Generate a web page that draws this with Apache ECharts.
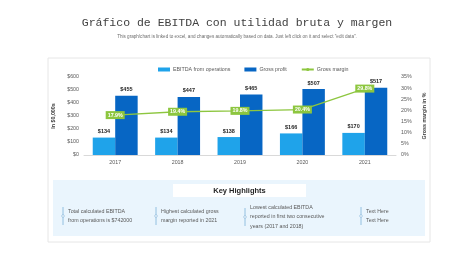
<!DOCTYPE html>
<html>
<head>
<meta charset="utf-8">
<script src="https://cdn.jsdelivr.net/npm/echarts@6/dist/echarts.min.js"></script>
<style>
  html, body { margin: 0; padding: 0; background: #fff; }
  #chart { width: 474px; height: 266px; }
</style>
</head>
<body>
<div id="chart"></div>
<script>
// datos del grafico
const years = ['2017', '2018', '2019', '2020', '2021'];
const ebitda = [134, 134, 138, 166, 170];
const grossProfit = [455, 447, 465, 507, 517];
const grossMargin = [17.9, 19.4, 19.8, 20.4, 29.8];

// textos de "Key Highlights"
const highlights = [
  ['Total calculated EBITDA', 'from operations is $742000'],
  ['Highest calculated gross', 'margin reported in 2021'],
  ['Lowest calculated EBITDA', 'reported in first two consecutive', 'years (2017 and 2018)'],
  ['Text Here', 'Text Here']
];
const highlightX = [63, 156, 245, 361];

const lightBlue = '#1fa3ea';
const darkBlue = '#0766c4';
const green = '#8dc63f';
const gray = '#595959';

// elementos graficos: tarjeta, panel y puntos destacados
const graphics = [
  { type: 'rect', z: -10, shape: { x: 48, y: 58, width: 382, height: 184 },
    style: { fill: '#fff', stroke: '#e6e6e6', lineWidth: 1 } },
  { type: 'rect', z: -5, shape: { x: 53, y: 180, width: 372, height: 56 },
    style: { fill: '#eaf5fd' } },
  { type: 'rect', shape: { x: 173, y: 184, width: 133, height: 13 },
    style: { fill: '#fff' } },
  { type: 'text', x: 239.5, y: 190.5,
    style: { text: 'Key Highlights', font: 'bold 7.5px "Liberation Sans", Arial, sans-serif',
      fill: '#262626', align: 'center', verticalAlign: 'middle' } }
];
highlights.forEach((lines, i) => {
  const x = highlightX[i];
  const cy = lines.length === 3 ? 217 : 216;
  graphics.push({ type: 'line', shape: { x1: x, y1: cy - 9, x2: x, y2: cy + 9 },
    style: { stroke: '#7fb2d8', lineWidth: 0.8 } });
  graphics.push({ type: 'circle', shape: { cx: x, cy: cy, r: 1.3 },
    style: { fill: '#fff', stroke: '#7fb2d8', lineWidth: 0.6 } });
  graphics.push({ type: 'text', x: x + 5, y: cy,
    style: { text: lines.join('\n'), font: '5.3px "Liberation Sans", Arial, sans-serif',
      lineHeight: 9.5, fill: gray, align: 'left', verticalAlign: 'middle' } });
});

const chart = echarts.init(document.getElementById('chart'), null, { renderer: 'canvas' });
chart.setOption({
  animation: false,
  backgroundColor: '#fff',
  title: {
    text: 'Gráfico de EBITDA con utilidad bruta y margen',
    subtext: 'This graph/chart is linked to excel, and changes automatically based on data. Just left click on it and select "edit data".',
    left: 'center',
    top: 12,
    itemGap: 5,
    textStyle: { fontFamily: '"Liberation Mono", "DejaVu Sans Mono", monospace', fontWeight: 'normal',
      fontSize: 11.5, color: '#404040' },
    subtextStyle: { fontFamily: '"Liberation Sans", Arial, sans-serif', fontSize: 4.6, color: '#6d6d6d' }
  },
  legend: {
    top: 62,
    left: 153,
    itemWidth: 12,
    itemHeight: 4,
    itemGap: 14,
    textStyle: { fontSize: 5.3, color: gray, fontFamily: '"Liberation Sans", Arial, sans-serif', padding: [0, 0, 0, -2] },
    data: [
      { name: 'EBITDA from operations', icon: 'rect' },
      { name: 'Gross profit', icon: 'rect' },
      { name: 'Gross margin' }
    ]
  },
  grid: { left: 84, right: 78, top: 77, bottom: 111 },
  xAxis: {
    type: 'category',
    data: years,
    axisLine: { lineStyle: { color: '#d9d9d9' } },
    axisTick: { show: false },
    axisLabel: { fontSize: 5.3, color: gray, margin: 5 }
  },
  yAxis: [
    {
      type: 'value', min: 0, max: 600, interval: 100,
      name: 'In $0,000s', nameLocation: 'middle', nameGap: 19, nameRotate: 90,
      nameTextStyle: { fontSize: 5.3, fontWeight: 'bold', color: '#404040' },
      splitLine: { show: false },
      axisLabel: { fontSize: 5.3, color: gray, margin: 5, formatter: v => '$' + v }
    },
    {
      type: 'value', min: 0, max: 35, interval: 5,
      name: 'Gross margin in %', nameLocation: 'middle', nameGap: 16, nameRotate: 90,
      nameTextStyle: { fontSize: 5.3, fontWeight: 'bold', color: '#404040' },
      splitLine: { show: false },
      axisLabel: { fontSize: 5.3, color: gray, margin: 5, formatter: v => v + '%' }
    }
  ],
  series: [
    {
      name: 'EBITDA from operations', type: 'bar', data: ebitda,
      barWidth: '36%', barGap: '0%',
      itemStyle: { color: lightBlue },
      label: { show: true, position: 'top', distance: 3, fontSize: 5.5, fontWeight: 'bold',
        color: '#262626', formatter: p => '$' + p.value }
    },
    {
      name: 'Gross profit', type: 'bar', data: grossProfit,
      barWidth: '36%',
      itemStyle: { color: darkBlue },
      label: { show: true, position: 'top', distance: 3, fontSize: 5.5, fontWeight: 'bold',
        color: '#262626', formatter: p => '$' + p.value }
    },
    {
      name: 'Gross margin', type: 'line', yAxisIndex: 1, data: grossMargin,
      symbol: 'circle', symbolSize: 1, showSymbol: true,
      lineStyle: { color: green, width: 1.3 },
      itemStyle: { color: green },
      label: { show: true, position: 'inside', fontSize: 5.3, fontWeight: 'bold', color: '#fff',
        backgroundColor: green, padding: [1.5, 2], formatter: p => p.value.toFixed(1) + '%' },
      z: 5
    }
  ],
  graphic: graphics
});
</script>
</body>
</html>
